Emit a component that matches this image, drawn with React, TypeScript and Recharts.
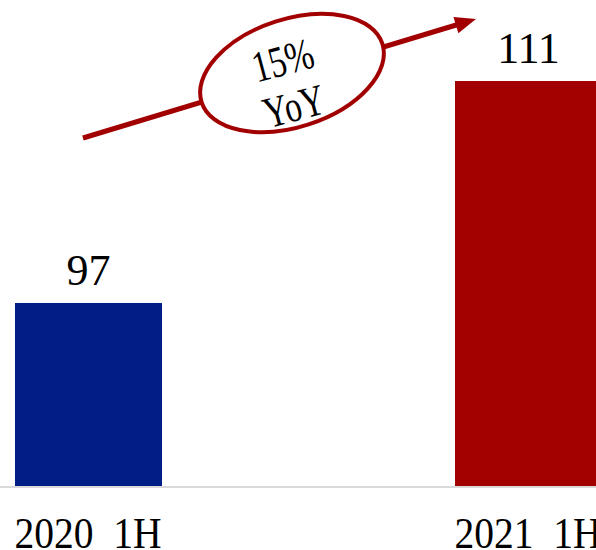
import React from "react";
import { BarChart, Bar, XAxis, YAxis, Cell, LabelList } from "recharts";

const categories = ["2020 1H", "2021 1H"];
const values = [97, 111];
const barColors = ["#011E87", "#A30000"];
const yoyLines = ["15%", "YoY"];

const data = categories.map((name, i) => ({ name, value: values[i] }));

const FONT = "'Liberation Serif', 'DejaVu Serif', serif";
const ACCENT = "#A20000";

const Tick = (props: any) => {
  const { x, y, payload } = props;
  const label = String(payload.value).replace(" ", "\u00a0\u00a0");
  return (
    <text
      x={x}
      y={y}
      dy={61}
      textAnchor="middle"
      fontFamily={FONT}
      fontSize={44}
      fill="#000"
      textLength={147}
      lengthAdjust="spacingAndGlyphs"
    >
      {label}
    </text>
  );
};

const Annotation = () => {
  const sx = 83, sy = 138, tx = 476, ty = 19;
  const dx = tx - sx, dy = ty - sy;
  const len = Math.hypot(dx, dy);
  const ux = dx / len, uy = dy / len;
  const nx = -uy, ny = ux;
  const headLen = 21, headHalf = 8.5;
  const bx = tx - ux * headLen, by = ty - uy * headLen;
  const pts = `${tx},${ty} ${bx + nx * headHalf},${by + ny * headHalf} ${bx - nx * headHalf},${by - ny * headHalf}`;
  return (
    <svg
      width={596}
      height={550}
      style={{ position: "absolute", left: 0, top: 0, pointerEvents: "none" }}
    >
      <line x1={sx} y1={sy} x2={bx + ux * 2} y2={by + uy * 2} stroke={ACCENT} strokeWidth={5} />
      <polygon points={pts} fill={ACCENT} />
      <ellipse
        cx={292}
        cy={73}
        rx={95}
        ry={54}
        transform="rotate(-18 292 73)"
        fill="#fff"
        stroke={ACCENT}
        strokeWidth={4}
      />
      <text
        x={283}
        y={75}
        transform="rotate(-15 283 61)"
        textAnchor="middle"
        fontFamily={FONT}
        fontSize={44}
        fill="#000"
        textLength={62}
        lengthAdjust="spacingAndGlyphs"
      >
        {yoyLines[0]}
      </text>
      <text
        x={294}
        y={121}
        transform="rotate(-15 294 106)"
        textAnchor="middle"
        fontFamily={FONT}
        fontSize={44}
        fill="#000"
        textLength={62}
        lengthAdjust="spacingAndGlyphs"
      >
        {yoyLines[1]}
      </text>
    </svg>
  );
};

export default function App() {
  return (
    <div
      style={{
        position: "absolute",
        left: 0,
        top: 0,
        width: 596,
        height: 550,
        overflow: "hidden",
        background: "#fff",
      }}
    >
      <div style={{ position: "absolute", left: -132.5, top: 0 }}>
        <BarChart
          width={880}
          height={550}
          data={data}
          margin={{ top: 0, right: 0, bottom: 0, left: 0 }}
        >
          <XAxis
            dataKey="name"
            height={63}
            tickLine={false}
            tickSize={0}
            tickMargin={0}
            axisLine={{ stroke: "#d9d9d9", strokeWidth: 2 }}
            tick={<Tick />}
            interval={0}
          />
          <YAxis hide domain={[85.4, 116.1]} allowDataOverflow />
          <Bar dataKey="value" barSize={147} isAnimationActive={false}>
            {data.map((d, i) => (
              <Cell key={d.name} fill={barColors[i]} />
            ))}
            <LabelList
              dataKey="value"
              position="top"
              offset={18}
              fill="#000"
              fontSize={44}
              fontFamily={FONT}
            />
          </Bar>
        </BarChart>
      </div>
      <Annotation />
    </div>
  );
}
